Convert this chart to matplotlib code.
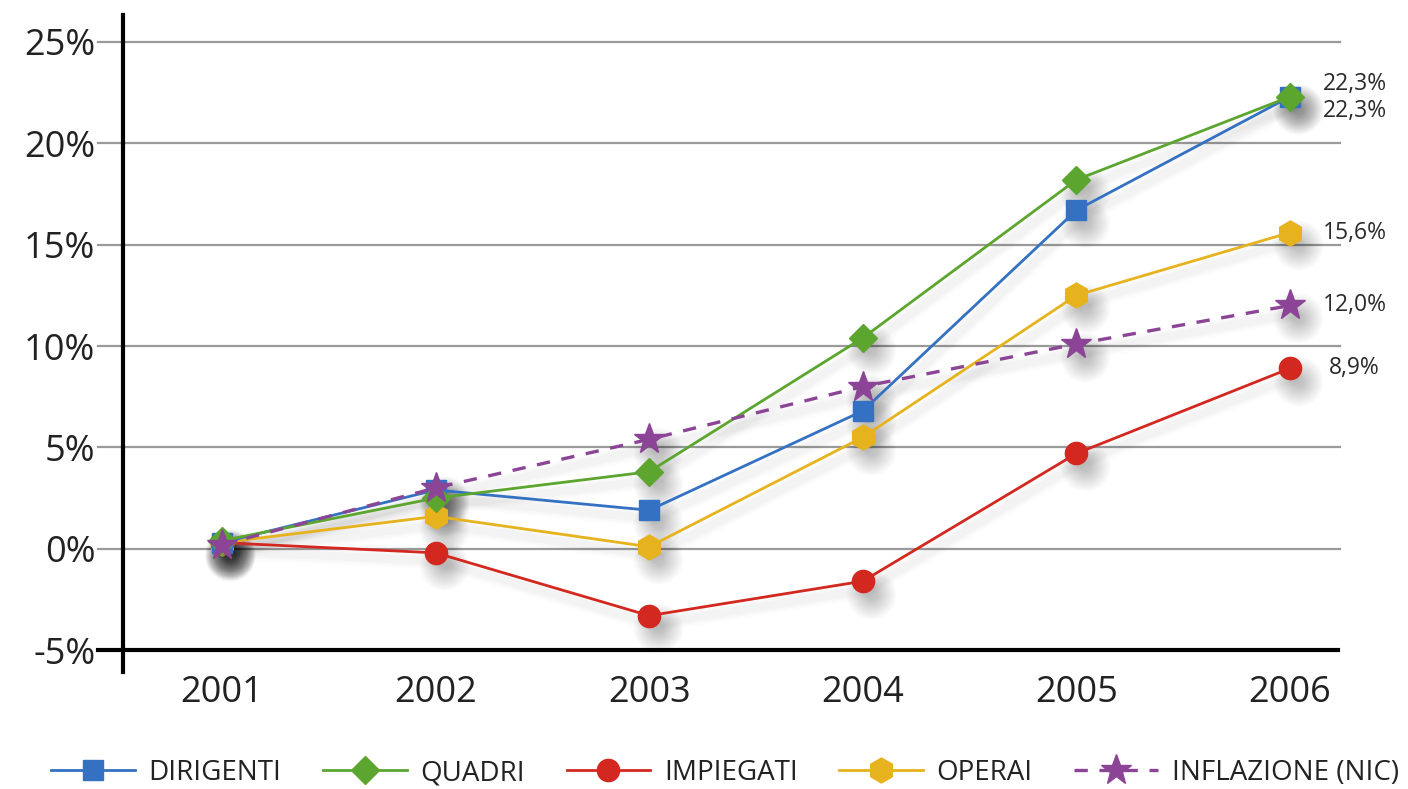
import matplotlib.pyplot as plt
from matplotlib.transforms import offset_copy

years = [2001, 2002, 2003, 2004, 2005, 2006]
dirigenti = [0.3, 2.9, 1.9, 6.8, 16.7, 22.3]
quadri = [0.4, 2.5, 3.8, 10.4, 18.2, 22.3]
impiegati = [0.3, -0.2, -3.3, -1.6, 4.7, 8.9]
operai = [0.3, 1.6, 0.1, 5.5, 12.5, 15.6]
inflazione = [0.2, 3.0, 5.4, 8.0, 10.1, 12.0]

y_ticks = [-5, 0, 5, 10, 15, 20, 25]
y_tick_labels = ["-5%", "0%", "5%", "10%", "15%", "20%", "25%"]


def fmt(v):
    return f"{v:.1f}".replace(".", ",") + "%"


def add_shadow(ax, fig, values):
    # soft drop shadow under line and markers, built from faint layers
    for w, a in [(12, 0.012), (9, 0.015), (6, 0.02)]:
        line_tr = offset_copy(ax.transData, fig=fig, x=3, y=-6, units='points')
        ax.plot(years, values, color='black', alpha=a, lw=w,
                transform=line_tr, zorder=1, solid_capstyle='round')
    dot_tr = offset_copy(ax.transData, fig=fig, x=6, y=-9, units='points')
    for size in range(36, 6, -2):
        ax.plot(years, values, ls='none', marker='o', ms=size, color='black',
                alpha=0.017, mec='none', transform=dot_tr, zorder=1)


def main():
    plt.rcParams['font.family'] = ['Open Sans', 'DejaVu Sans']
    fig = plt.figure(figsize=(14.08, 7.89), dpi=100)
    ax = fig.add_axes([0.0874, 0.148, 0.8643, 0.833])

    ax.set_xlim(2000.537, 2006.234)
    ax.set_ylim(-6.09, 26.33)

    # horizontal rules reaching a little left of the y axis
    for y in y_ticks[1:]:
        ax.axhline(y, xmin=-0.0205, xmax=1, color='#9a9a9a', lw=1.6,
                   clip_on=False, zorder=0)
    ax.axhline(-5, xmin=-0.021, xmax=0.998, color='black', lw=3,
               clip_on=False, zorder=5)

    series = [
        ("OPERAI", operai, '#e6b31e', 'h', 18, '-'),
        ("IMPIEGATI", impiegati, '#d2281f', 'o', 16, '-'),
        ("DIRIGENTI", dirigenti, '#3571c2', 's', 15, '-'),
        ("QUADRI", quadri, '#5ca52f', 'D', 14, '-'),
        ("INFLAZIONE (NIC)", inflazione, '#8c4596', '*', 23, (0, (4, 3.5))),
    ]
    handles = {}
    for name, values, color, marker, ms, ls in series:
        add_shadow(ax, fig, values)
        lw = 2.4 if name.startswith("INFL") else 2.0
        line, = ax.plot(years, values, color=color, lw=lw, ls=ls,
                        marker=marker, ms=ms, mec=color, zorder=3, label=name)
        handles[name] = line

    # end-of-line values
    label_offsets = [
        (dirigenti[-1], 9),
        (quadri[-1], -10),
        (operai[-1], 0),
        (inflazione[-1], 0),
        (impiegati[-1], 0),
    ]
    for i, (v, dy) in enumerate(label_offsets):
        dx = 24 if i < 4 else 28
        ax.annotate(fmt(v), (years[-1], v), xytext=(dx, dy),
                    textcoords='offset points', va='center', ha='left',
                    fontsize=16.5, color='#2a2a2a', annotation_clip=False)

    ax.set_yticks(y_ticks)
    ax.set_yticklabels(y_tick_labels)
    ax.set_xticks(years)
    ax.set_xticklabels([str(y) for y in years])
    ax.tick_params(axis='y', length=0, pad=20, labelsize=26,
                   labelcolor='#222222')
    ax.tick_params(axis='x', length=0, pad=2, labelsize=26,
                   labelcolor='#222222')

    for side in ['top', 'right', 'bottom']:
        ax.spines[side].set_visible(False)
    ax.spines['left'].set_linewidth(3)
    ax.spines['left'].set_color('black')

    order = ["DIRIGENTI", "QUADRI", "IMPIEGATI", "OPERAI", "INFLAZIONE (NIC)"]
    fig.legend([handles[n] for n in order], order, loc='center',
               bbox_to_anchor=(0.515, 0.02), ncol=5, frameon=False,
               fontsize=20, handlelength=3.0, handletextpad=0.5,
               columnspacing=1.5, labelcolor='#222222')

    fig.savefig("out.png", dpi=100, facecolor='white')


if __name__ == "__main__":
    main()
